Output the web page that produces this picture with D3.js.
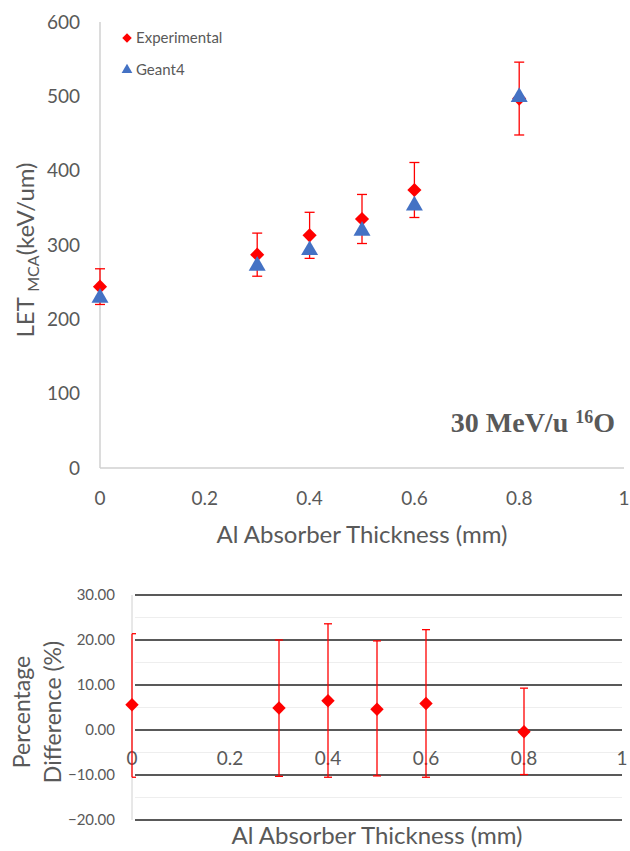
<!DOCTYPE html>
<html>
<head>
<meta charset="utf-8">
<script src="https://cdn.jsdelivr.net/npm/d3@7"></script>
<style>
  body { margin: 0; background: #fff; }
  svg { display: block; }
</style>
</head>
<body>
<div id="chart"></div>
<script>
// thickness (mm)
const thickness = [0, 0.3, 0.4, 0.5, 0.6, 0.8];
// LET values (keV/um)
const experimental = [244, 287, 313, 335, 374, 497];
const experimentalErr = [24, 29, 31, 33, 37, 49];
const geant4 = [229, 272, 293, 319, 353, 499];
// percentage difference
const pctDiff = [5.6, 4.9, 6.5, 4.6, 5.9, -0.4];
const pctErrUp = [21.4, 20.0, 23.6, 19.8, 22.3, 9.3];
const pctErrDown = [-10.5, -10.3, -10.5, -10.2, -10.5, -9.9];

const xTicks = [0, 0.2, 0.4, 0.6, 0.8, 1];
const yTicksTop = [0, 100, 200, 300, 400, 500, 600];
const yTicksBottom = [-20, -10, 0, 10, 20, 30];
const yMinorBottom = [-15, -5, 5, 15, 25];

const width = 630, height = 851;
const red = '#ff0000', blue = '#4472c4', grey = '#595959';
const font = 'Lato, "Open Sans", sans-serif';

const svg = d3.select('#chart').append('svg')
  .attr('width', width).attr('height', height)
  .style('font-family', font);

// ---------- top chart ----------
const x1 = d3.scaleLinear().domain([0, 1]).range([100, 624]);
const y1 = d3.scaleLinear().domain([0, 600]).range([468, 22]);

const topG = svg.append('g');

topG.append('line')
  .attr('x1', x1(0)).attr('x2', x1(0))
  .attr('y1', y1(600)).attr('y2', y1(0))
  .attr('stroke', '#d0d0d0').attr('stroke-width', 1.5);
topG.append('line')
  .attr('x1', x1(0)).attr('x2', x1(1))
  .attr('y1', y1(0)).attr('y2', y1(0))
  .attr('stroke', '#d0d0d0').attr('stroke-width', 1.5);

topG.selectAll('.ytl').data(yTicksTop).join('text')
  .attr('x', x1(0) - 20).attr('y', d => y1(d))
  .attr('dy', '0.35em').attr('text-anchor', 'end')
  .attr('fill', grey).attr('font-size', 19)
  .text(d => d);

topG.selectAll('.xtl').data(xTicks).join('text')
  .attr('x', d => x1(d)).attr('y', 505)
  .attr('text-anchor', 'middle')
  .attr('fill', grey).attr('font-size', 19)
  .text(d => d);

topG.append('text')
  .attr('x', 362).attr('y', 543)
  .attr('text-anchor', 'middle')
  .attr('fill', grey).attr('font-size', 24)
  .text('Al Absorber Thickness (mm)');

const ytitle = topG.append('text')
  .attr('transform', 'translate(34,250) rotate(-90)')
  .attr('text-anchor', 'middle')
  .attr('fill', grey).attr('font-size', 24);
ytitle.append('tspan').text('LET ');
ytitle.append('tspan').attr('font-size', 16).attr('dy', 5).text('MCA');
ytitle.append('tspan').attr('dy', -5).text('(keV/um)');

// error bars
const errTop = topG.append('g').attr('stroke', red).attr('stroke-width', 1.3);
thickness.forEach((t, i) => {
  const hi = y1(experimental[i] + experimentalErr[i]);
  const lo = y1(experimental[i] - experimentalErr[i]);
  const cx = x1(t);
  errTop.append('line').attr('x1', cx).attr('x2', cx).attr('y1', hi).attr('y2', lo);
  errTop.append('line').attr('x1', cx - 5).attr('x2', cx + 5).attr('y1', hi).attr('y2', hi);
  errTop.append('line').attr('x1', cx - 5).attr('x2', cx + 5).attr('y1', lo).attr('y2', lo);
});

const tri = d3.symbol().type(d3.symbolTriangle);

topG.selectAll('.exp').data(thickness).join('path')
  .attr('transform', (d, i) => `translate(${x1(d)},${y1(experimental[i])}) rotate(45)`)
  .attr('d', d3.symbol().type(d3.symbolSquare).size(100))
  .attr('fill', red);

topG.selectAll('.g4').data(thickness).join('path')
  .attr('transform', (d, i) => `translate(${x1(d)},${y1(geant4[i])})`)
  .attr('d', tri.size(125))
  .attr('fill', blue);

// legend
const leg = topG.append('g');
leg.append('path')
  .attr('transform', 'translate(127,38) rotate(45)')
  .attr('d', d3.symbol().type(d3.symbolSquare).size(45))
  .attr('fill', red);
leg.append('text').attr('x', 136).attr('y', 38).attr('dy', '0.35em')
  .attr('fill', grey).attr('font-size', 15).text('Experimental');
leg.append('path')
  .attr('transform', 'translate(127,70)')
  .attr('d', d3.symbol().type(d3.symbolTriangle).size(50))
  .attr('fill', blue);
leg.append('text').attr('x', 136).attr('y', 70).attr('dy', '0.35em')
  .attr('fill', grey).attr('font-size', 15).text('Geant4');

const ann = topG.append('text')
  .attr('x', 615).attr('y', 432)
  .attr('text-anchor', 'end')
  .attr('font-family', '"Liberation Serif", "DejaVu Serif", serif')
  .attr('font-weight', 'bold').attr('font-size', 28)
  .attr('fill', grey);
ann.append('tspan').text('30 MeV/u ');
ann.append('tspan').attr('font-size', 18).attr('dy', -9).text('16');
ann.append('tspan').attr('dy', 9).text('O');

// ---------- bottom chart ----------
const x2 = d3.scaleLinear().domain([0, 1]).range([132, 622]);
const y2 = d3.scaleLinear().domain([-20, 30]).range([820, 595]);

const bot = svg.append('g');

bot.selectAll('.minor').data(yMinorBottom).join('line')
  .attr('x1', x2(0) + 3).attr('x2', x2(1))
  .attr('y1', d => y2(d)).attr('y2', d => y2(d))
  .attr('stroke', '#eeeeee').attr('stroke-width', 1);

bot.selectAll('.major').data(yTicksBottom).join('line')
  .attr('x1', x2(0) + 3).attr('x2', x2(1))
  .attr('y1', d => y2(d)).attr('y2', d => y2(d))
  .attr('stroke', '#222').attr('stroke-width', 1.3);

bot.append('line')
  .attr('x1', x2(0)).attr('x2', x2(0))
  .attr('y1', y2(30)).attr('y2', y2(-20))
  .attr('stroke', '#d0d0d0').attr('stroke-width', 1);

bot.selectAll('.ytl').data(yTicksBottom).join('text')
  .attr('x', 115).attr('y', d => y2(d))
  .attr('dy', '0.35em').attr('text-anchor', 'end')
  .attr('fill', grey).attr('font-size', 15)
  .text(d => d3.format('.2f')(d));

bot.selectAll('.xtl').data(xTicks).join('text')
  .attr('x', d => x2(d)).attr('y', y2(0) + 35)
  .attr('text-anchor', 'middle')
  .attr('fill', grey).attr('font-size', 19)
  .text(d => d);

bot.append('text')
  .attr('x', 377).attr('y', 844)
  .attr('text-anchor', 'middle')
  .attr('fill', grey).attr('font-size', 24)
  .text('Al Absorber Thickness (mm)');

const ytitle2 = bot.append('text')
  .attr('transform', 'translate(38,712) rotate(-90)')
  .attr('text-anchor', 'middle')
  .attr('fill', grey).attr('font-size', 23);
ytitle2.append('tspan').attr('x', 0).attr('dy', -8).text('Percentage');
ytitle2.append('tspan').attr('x', 0).attr('dy', 31).text('Difference (%)');

const errBot = bot.append('g').attr('stroke', red).attr('stroke-width', 1.3);
thickness.forEach((t, i) => {
  const hi = y2(pctErrUp[i]);
  const lo = y2(pctErrDown[i]);
  const cx = x2(t);
  const left = Math.max(cx - 4, x2(0));
  errBot.append('line').attr('x1', cx).attr('x2', cx).attr('y1', hi).attr('y2', lo);
  errBot.append('line').attr('x1', left).attr('x2', cx + 4).attr('y1', hi).attr('y2', hi);
  errBot.append('line').attr('x1', left).attr('x2', cx + 4).attr('y1', lo).attr('y2', lo);
});

bot.selectAll('.pd').data(thickness).join('path')
  .attr('transform', (d, i) => `translate(${x2(d)},${y2(pctDiff[i])}) rotate(45)`)
  .attr('d', d3.symbol().type(d3.symbolSquare).size(90))
  .attr('fill', red);
</script>
</body>
</html>
